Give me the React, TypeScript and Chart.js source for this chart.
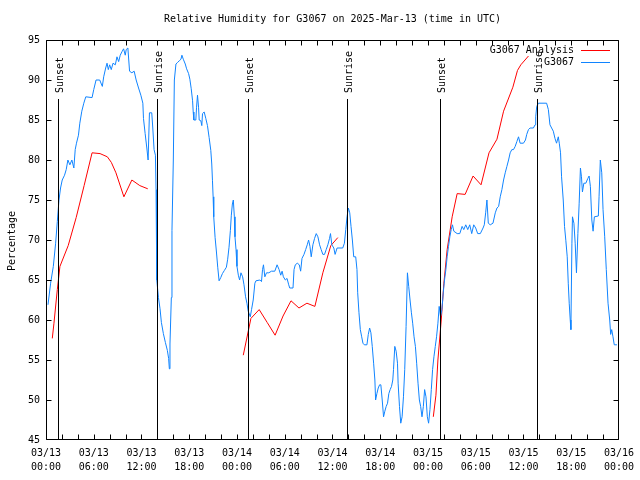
import React, { useEffect, useRef } from 'react';
import { Chart, registerables } from 'chart.js';

Chart.register(...registerables);

const FONT = "'DejaVu Sans Mono', monospace";
const OBS_COLOR = '#1084ff';
const ANA_COLOR = '#ff0000';

const chartTitle = 'Relative Humidity for G3067 on 2025-Mar-13 (time in UTC)';
const yAxisTitle = 'Percentage';
const seriesNames = ['G3067 Analysis', 'G3067'];

const xTickDates = ['03/13', '03/13', '03/13', '03/13', '03/14', '03/14', '03/14', '03/14', '03/15', '03/15', '03/15', '03/15', '03/16'];
const xTickTimes = ['00:00', '06:00', '12:00', '18:00', '00:00', '06:00', '12:00', '18:00', '00:00', '06:00', '12:00', '18:00', '00:00'];

// hours since 03/13 00:00 UTC
const eventHours = [1.55, 13.92, 25.42, 37.85, 49.45, 61.67];
const eventLabels = ['Sunset', 'Sunrise', 'Sunset', 'Sunrise', 'Sunset', 'Sunrise'];

// [hour, %RH] observations
const obsPoints: [number, number][] = [
  [0.25, 61.9], [0.58, 64.6], [0.92, 66.7], [1.21, 69.6], [1.42, 72.3], [1.63, 75], [1.83, 76.5], [2.04, 77.5],
  [2.33, 78.1], [2.54, 78.8], [2.75, 80], [3.0, 79.4], [3.25, 80], [3.5, 79], [3.67, 81.3], [3.83, 82.1],
  [4.08, 83.1], [4.25, 84.6], [4.5, 86.1], [4.75, 87.1], [5.0, 87.9], [5.79, 87.8], [6.0, 88.8], [6.29, 90],
  [6.75, 90], [7.08, 89.2], [7.25, 90.4], [7.5, 91.5], [7.67, 92.1], [7.83, 91.3], [8.0, 91.9], [8.2, 91.3],
  [8.42, 92.1], [8.71, 91.9], [8.92, 92.9], [9.13, 92.3], [9.33, 93.1], [9.58, 93.6], [9.75, 93.9], [9.96, 93.1],
  [10.08, 93.8], [10.29, 94], [10.5, 91.1], [10.79, 90.9], [11.08, 91.1], [11.33, 90], [11.63, 89], [11.92, 88.1],
  [12.17, 87.1], [12.25, 85.2], [12.46, 83.3], [12.67, 81.5], [12.83, 80], [13.0, 85.9], [13.29, 85.9], [13.42, 84],
  [13.58, 81.3], [13.75, 80.6], [13.83, 76.3], [13.92, 65], [14.13, 62.8], [14.33, 61.4], [14.5, 59.7], [14.75, 58.3],
  [15.0, 57.2], [15.25, 56.2], [15.41, 55.2], [15.5, 53.9], [15.58, 57], [15.75, 62.8], [15.83, 71.2], [16.0, 80],
  [16.13, 90], [16.33, 92], [16.54, 92.2], [16.75, 92.4], [16.96, 92.6], [17.08, 93.1], [17.25, 92.6], [17.5, 92],
  [17.67, 91.4], [17.92, 90.8], [18.08, 90.1], [18.25, 88.9], [18.42, 87.4], [18.5, 86], [18.58, 85], [18.83, 85],
  [18.92, 86.6], [19.04, 88.1], [19.17, 86.6], [19.25, 85], [19.46, 84.9], [19.58, 84.3], [19.67, 85.8], [19.88, 86],
  [20.08, 85.2], [20.29, 84.3], [20.5, 82.8], [20.71, 81.2], [20.83, 79.5], [20.92, 77.4], [21.0, 75.4], [21.08, 72.9],
  [21.25, 70.3], [21.42, 68.5], [21.58, 66.6], [21.75, 64.9], [21.96, 65.3], [22.17, 65.8], [22.42, 66.2], [22.67, 66.6],
  [22.83, 67.6], [23.0, 69.1], [23.17, 71.2], [23.29, 73.1], [23.42, 74.5], [23.54, 75], [23.67, 72.9], [23.75, 70.4],
  [23.88, 68.8], [24.0, 66.7], [24.17, 65.6], [24.33, 65], [24.5, 65.9], [24.71, 65.4], [24.88, 64.4], [25.08, 62.9],
  [25.25, 62.1], [25.41, 61.1], [25.67, 60.4], [25.83, 61.3], [26.04, 62.5], [26.25, 64.6], [26.38, 64.9], [26.88, 65],
  [27.08, 64.8], [27.21, 66.3], [27.33, 66.9], [27.5, 65.4], [27.71, 65.9], [28.0, 65.9], [28.33, 66.1], [28.75, 66.1],
  [29.04, 66.9], [29.29, 66.3], [29.5, 65.6], [29.67, 66.1], [29.83, 65.4], [30.08, 65], [30.29, 65.2], [30.5, 64.4],
  [30.63, 64], [31.04, 64], [31.17, 66.3], [31.33, 66.9], [31.58, 67.1], [31.83, 66.9], [32.0, 66.1], [32.17, 67.7],
  [32.42, 68.2], [32.63, 68.8], [32.83, 69.4], [33.0, 70], [33.17, 69.2], [33.33, 67.9], [33.54, 69.4], [33.75, 70.2],
  [33.96, 70.8], [34.17, 70.4], [34.38, 69.4], [34.58, 68.8], [34.79, 68.2], [35.0, 68.2], [35.21, 68.8], [35.42, 69.4],
  [35.63, 70.2], [35.75, 70.8], [35.92, 69.4], [36.17, 69], [36.33, 68.2], [36.58, 69], [37.29, 69], [37.5, 69.6],
  [37.67, 71.3], [37.83, 72.9], [38.0, 74], [38.17, 73.4], [38.33, 71.7], [38.5, 70], [38.67, 67.9], [38.92, 67.9],
  [39.08, 66.3], [39.17, 63.4], [39.33, 60.9], [39.5, 58.8], [39.67, 57.9], [39.83, 57.1], [40.0, 56.9], [40.33, 56.9],
  [40.5, 58.2], [40.67, 59], [40.83, 58.4], [41.0, 56.7], [41.17, 54.6], [41.33, 52.5], [41.42, 50], [41.58, 50.8],
  [41.75, 51.5], [41.92, 51.9], [42.08, 51.9], [42.25, 50], [42.42, 47.9], [42.58, 48.6], [42.75, 49.2], [42.92, 49.6],
  [43.08, 50.8], [43.25, 51.3], [43.42, 51.7], [43.58, 52.5], [43.67, 53.8], [43.83, 56.7], [44.0, 56.1], [44.17, 54.6],
  [44.25, 52.1], [44.42, 49.2], [44.58, 47.1], [44.75, 47.9], [44.92, 50.4], [45.08, 53.8], [45.25, 59.2], [45.42, 65.9],
  [45.58, 64.2], [45.75, 62.5], [45.92, 60.9], [46.08, 59.6], [46.25, 57.9], [46.42, 56.7], [46.58, 54.6], [46.75, 52.1],
  [46.92, 50], [47.08, 49.2], [47.25, 47.9], [47.42, 49.2], [47.58, 51.3], [47.75, 50.4], [47.92, 47.9], [48.08, 47.1],
  [48.25, 48.8], [48.42, 51.3], [48.58, 53.8], [48.75, 55.4], [48.92, 56.7], [49.08, 57.9], [49.25, 59.6], [49.41, 61.7],
  [49.58, 60.4], [49.75, 61.3], [49.92, 63.4], [50.08, 65], [50.25, 66.3], [50.41, 67.9], [50.58, 69.2], [50.75, 70.4],
  [50.92, 71.3], [51.08, 71.9], [51.25, 71.1], [51.67, 70.8], [52.0, 70.8], [52.29, 71.7], [52.5, 71.3], [52.75, 71.9],
  [53.0, 71.3], [53.25, 71.9], [53.5, 70.8], [53.75, 71.9], [54.0, 71.5], [54.25, 70.8], [54.58, 70.8], [54.92, 71.5],
  [55.08, 71.9], [55.25, 73.4], [55.41, 75], [55.58, 72.1], [55.83, 71.9], [56.17, 72.1], [56.46, 73.4], [56.67, 74],
  [56.88, 74.2], [57.08, 75.4], [57.29, 76.3], [57.5, 77.5], [57.71, 78.4], [57.92, 79.2], [58.13, 80], [58.33, 80.9],
  [58.54, 81.3], [58.75, 81.3], [58.96, 81.7], [59.17, 82.3], [59.38, 82.9], [59.58, 82.1], [60.0, 82.1], [60.25, 82.5],
  [60.41, 83.2], [60.63, 83.8], [60.83, 84], [61.25, 84], [61.46, 84.4], [61.54, 85.4], [61.67, 86.7], [61.88, 87.1],
  [62.91, 87.1], [63.13, 86.3], [63.33, 84.4], [63.54, 84], [63.75, 83.6], [63.96, 82.7], [64.16, 82.1], [64.38, 82.9],
  [64.5, 82.1], [64.66, 80.9], [64.79, 77.9], [65.0, 75], [65.16, 71.7], [65.33, 69.9], [65.5, 67.9], [65.63, 64.6],
  [65.75, 62.1], [65.88, 60], [65.96, 58.8], [66.09, 69.6], [66.16, 72.9], [66.34, 72.1], [66.5, 69.6], [66.66, 65.9],
  [66.84, 70.8], [67.0, 74.6], [67.16, 79], [67.29, 77.9], [67.41, 76], [67.59, 77.1], [67.84, 77.1], [68.09, 77.7],
  [68.25, 78], [68.41, 76.7], [68.59, 72.5], [68.75, 71.1], [68.91, 72.9], [69.41, 73], [69.5, 75.4], [69.66, 80],
  [69.84, 78.4], [70.0, 73.8], [70.21, 70.4], [70.41, 66.3], [70.63, 62.1], [70.84, 60], [70.96, 58.2], [71.09, 58.8],
  [71.25, 57.9], [71.41, 56.9], [71.75, 56.9],
];

// [hour, %RH] analysis, three separate runs
const anaRun1: [number, number][] = [
  [0.79, 57.7], [1.0, 59.6], [1.42, 63.8], [1.75, 66.7], [2.79, 69.3], [3.79, 72.8], [4.79, 76.8], [5.79, 80.9],
  [6.79, 80.8], [7.71, 80.4], [8.21, 79.7], [8.79, 78.4], [9.79, 75.4], [10.79, 77.5], [11.79, 76.8], [12.79, 76.4],
];
const anaRun2: [number, number][] = [
  [24.79, 55.6], [25.75, 60.2], [26.79, 61.3], [27.79, 59.7], [28.79, 58.1], [29.79, 60.5], [30.79, 62.4],
  [31.79, 61.5], [32.79, 62.1], [33.79, 61.7], [34.79, 65.9], [35.79, 69.3], [36.67, 70.3],
];
const anaRun3: [number, number][] = [
  [48.67, 47.9], [49.0, 50.6], [49.25, 55], [49.67, 60], [50.0, 64.6], [50.41, 68.8], [50.75, 71], [51.04, 72.9],
  [51.67, 75.8], [52.67, 75.7], [53.67, 78], [54.67, 76.9], [55.67, 80.9], [56.67, 82.6], [57.5, 86.1],
  [58.67, 89.1], [59.25, 91.2], [59.67, 91.9], [60.63, 93],
];

export default function App() {
  const ref = useRef<HTMLCanvasElement>(null);

  useEffect(() => {
    if (!ref.current) return;

    const obsData = obsPoints.map(([x, y]) => ({ x, y }));
    const anaData: { x: number; y: number | null }[] = [];
    [anaRun1, anaRun2, anaRun3].forEach((run, i) => {
      if (i > 0) anaData.push({ x: run[0][0] - 0.5, y: null });
      run.forEach(([x, y]) => anaData.push({ x, y }));
    });

    const overlay = {
      id: 'overlay',
      afterDatasetsDraw(chart: any) {
        const { ctx, chartArea: a, scales } = chart;
        const xs = scales.x;
        const ys = scales.y;
        const L = Math.round(a.left) + 0.5;
        const R = Math.round(a.right) - 0.5;
        const T = Math.round(a.top) + 0.5;
        const B = Math.round(a.bottom) - 0.5;
        ctx.save();
        ctx.strokeStyle = '#000';
        ctx.fillStyle = '#000';
        ctx.lineWidth = 1;

        // sunrise / sunset markers
        ctx.beginPath();
        eventHours.forEach((h) => {
          const x = Math.round(xs.getPixelForValue(h)) + 0.5;
          ctx.moveTo(x, 99);
          ctx.lineTo(x, B);
        });
        ctx.stroke();
        ctx.font = `10px ${FONT}`;
        ctx.textAlign = 'left';
        ctx.textBaseline = 'middle';
        eventHours.forEach((h, i) => {
          const x = Math.round(xs.getPixelForValue(h)) + 0.5;
          ctx.save();
          ctx.translate(x + 1.5, 93);
          ctx.rotate(-Math.PI / 2);
          ctx.fillText(eventLabels[i], 0, 0);
          ctx.restore();
        });

        // border and tick marks
        ctx.beginPath();
        ctx.rect(L, T, R - L, B - T);
        for (let h = 0; h <= 72; h += 2) {
          let x = Math.round(xs.getPixelForValue(h)) + 0.5;
          x = Math.min(Math.max(x, L), R);
          ctx.moveTo(x, B);
          ctx.lineTo(x, B - 5);
          ctx.moveTo(x, T);
          ctx.lineTo(x, T + 5);
        }
        ys.ticks.forEach((t: any) => {
          let y = Math.round(ys.getPixelForValue(t.value)) + 0.5;
          y = Math.min(Math.max(y, T), B);
          ctx.moveTo(L, y);
          ctx.lineTo(L + 5, y);
          ctx.moveTo(R, y);
          ctx.lineTo(R - 5, y);
        });
        ctx.stroke();

        // title
        ctx.textAlign = 'center';
        ctx.textBaseline = 'middle';
        ctx.fillText(chartTitle, (a.left + a.right) / 2, 19);

        // y axis title
        ctx.save();
        ctx.translate(12, 241);
        ctx.rotate(-Math.PI / 2);
        ctx.fillText(yAxisTitle, 0, 0);
        ctx.restore();

        // legend
        const colors = [ANA_COLOR, OBS_COLOR];
        seriesNames.forEach((name, i) => {
          const y = 50 + i * 12;
          ctx.textAlign = 'right';
          ctx.fillStyle = '#000';
          ctx.fillText(name, 574, y);
          ctx.strokeStyle = colors[i];
          ctx.beginPath();
          ctx.moveTo(581, y + 0.5);
          ctx.lineTo(610, y + 0.5);
          ctx.stroke();
        });
        ctx.restore();
      },
    };

    const tickFont = { family: FONT, size: 10, lineHeight: 1.4 };

    const chart = new Chart(ref.current, {
      type: 'line',
      data: {
        datasets: [
          {
            label: seriesNames[1],
            data: obsData,
            borderColor: OBS_COLOR,
            backgroundColor: OBS_COLOR,
            borderWidth: 1,
            pointRadius: 0,
            fill: false,
            tension: 0,
          },
          {
            label: seriesNames[0],
            data: anaData,
            borderColor: ANA_COLOR,
            backgroundColor: ANA_COLOR,
            borderWidth: 1,
            pointRadius: 0,
            fill: false,
            tension: 0,
            spanGaps: false,
          },
        ],
      },
      options: {
        animation: false,
        responsive: false,
        events: [],
        layout: { padding: { top: 40, right: 18, left: 0, bottom: 0 } },
        plugins: {
          legend: { display: false },
          tooltip: { enabled: false },
          title: { display: false },
        },
        scales: {
          x: {
            type: 'linear',
            min: 0,
            max: 72,
            grid: { display: false, drawTicks: false },
            border: { display: false },
            ticks: {
              stepSize: 6,
              autoSkip: false,
              maxRotation: 0,
              minRotation: 0,
              padding: 6,
              color: '#000',
              font: tickFont,
              callback: (v: any) => {
                const i = Math.round(Number(v) / 6);
                return [xTickDates[i], xTickTimes[i]];
              },
            },
            afterFit: (s: any) => {
              s.height = 40;
            },
          },
          y: {
            type: 'linear',
            min: 45,
            max: 95,
            grid: { display: false, drawTicks: false },
            border: { display: false },
            ticks: {
              stepSize: 5,
              padding: 6,
              color: '#000',
              font: tickFont,
            },
            afterFit: (s: any) => {
              s.width = 46;
            },
          },
        },
      } as any,
      plugins: [overlay],
    });

    return () => chart.destroy();
  }, []);

  return (
    <div style={{ position: 'absolute', left: 0, top: 0, width: 640, height: 480, background: '#fff' }}>
      <canvas ref={ref} width={640} height={480} style={{ display: 'block' }} />
    </div>
  );
}
